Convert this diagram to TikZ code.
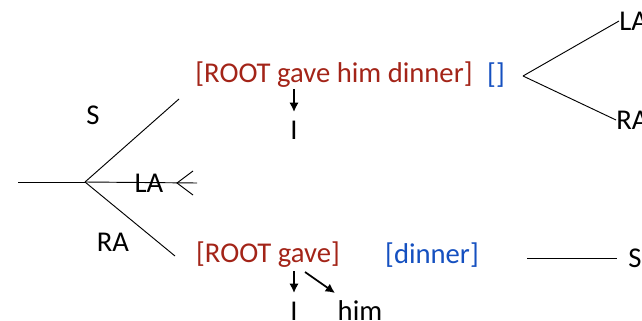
\documentclass[tikz,border=0pt]{standalone}
\usepackage{fontspec}
\setmainfont{Carlito}
\usetikzlibrary{arrows.meta}
\definecolor{dred}{HTML}{A32418}
\definecolor{dblue}{HTML}{1550C0}
\begin{document}
\begin{tikzpicture}[x=0.75pt,y=-0.75pt,
  lbl/.style={inner sep=0pt,font=\fontsize{21.5}{26}\selectfont},
  rtxt/.style={lbl,text=dred},
  btxt/.style={lbl,text=dblue},
  ln/.style={line width=0.7pt},
  arr/.style={line width=1.3pt,-{Latex[length=7pt,width=7pt]}}]
\useasboundingbox (0,0) rectangle (642,321);
% left tree
\coordinate (l0) at (18,182);
\coordinate (br) at (85,182);
\coordinate (up) at (179,99);
\coordinate (dn) at (175,256);
\coordinate (md) at (197,183);
\coordinate (hv) at (177,183);
\coordinate (h1) at (193,171);
\coordinate (h2) at (193,195);
\draw[ln] (l0) -- (br);
\draw[ln] (br) -- (up);
\draw[ln] (br) -- (dn);
\draw[ln] (br) -- (md);
\draw[ln] (h1) -- (hv) -- (h2);
\node[lbl] (S1) at (93,115) {S};
\node[lbl] (LA1) at (149,183) {LA};
\node[lbl] (RA1) at (113,242) {RA};
% top config
\node[rtxt] (stk1) at (334,75) {[ROOT gave him dinner]};
\node[btxt] (buf1) at (496,75) {[]};
\coordinate (a1s) at (294,89);
\node[lbl] (I1) at (294,130) {I};
\draw[arr] (a1s) -- (294,112);
% right fork
\coordinate (rf) at (523,76);
\node[lbl,anchor=west] (LA2) at (619,21) {LA};
\node[lbl,anchor=west] (RA2) at (616,120) {RA};
\draw[ln] (rf) -- (LA2.west);
\draw[ln] (rf) -- (RA2.west);
% bottom config
\node[rtxt] (stk2) at (268,255) {[ROOT gave]};
\node[btxt] (buf2) at (432,255) {[dinner]};
\node[lbl,anchor=west] (S2) at (628,258) {S};
\coordinate (sl) at (527,258);
\draw[ln] (sl) -- (617,258);
\node[lbl] (I2) at (294,311) {I};
\node[lbl] (him) at (360,311) {him};
\draw[arr] (294,271) -- (294,293);
\draw[arr] (305,272) -- (335,293);
\end{tikzpicture}
\end{document}
